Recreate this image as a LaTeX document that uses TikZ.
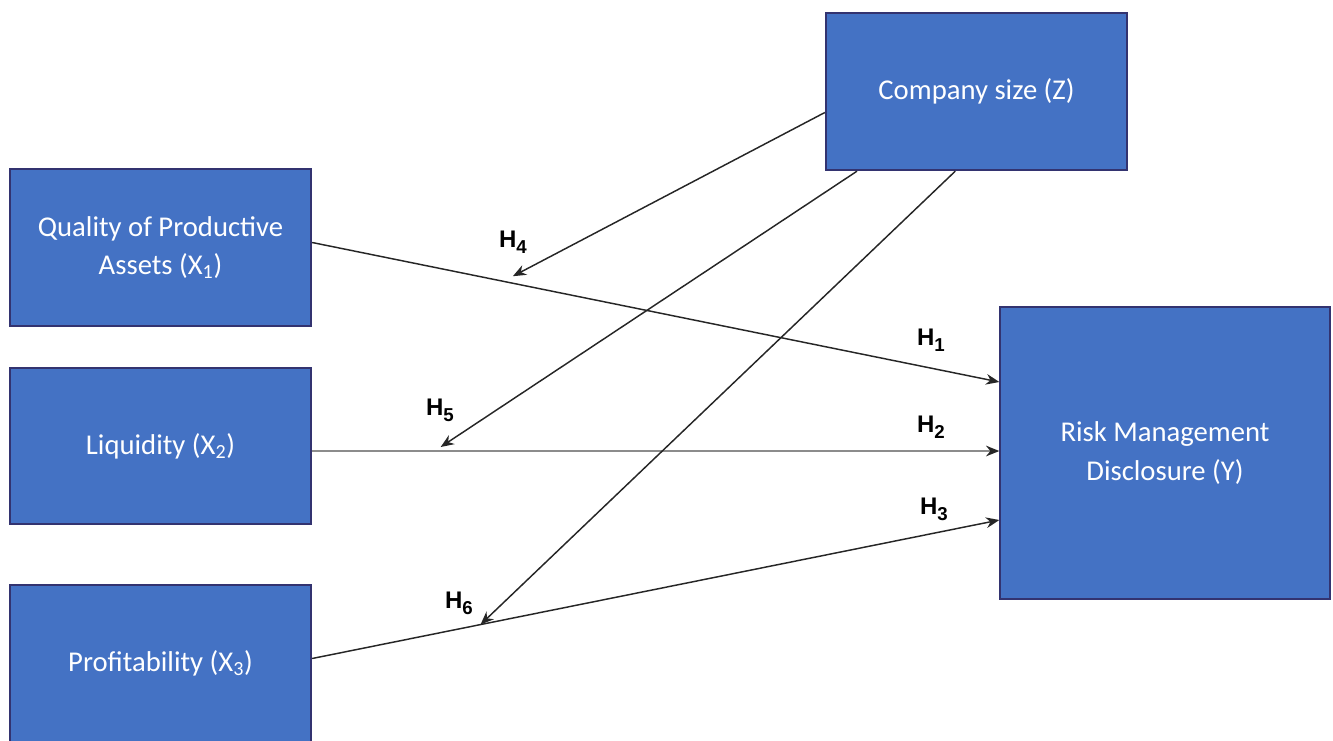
\documentclass[tikz,border=0pt]{standalone}
\usepackage{fontspec}
\setmainfont{Carlito}
\newfontfamily\hfont{Liberation Sans}
\usetikzlibrary{arrows.meta,calc}
\newcommand{\hsub}[1]{H\raisebox{-4.5pt}{\fontsize{14}{14}\selectfont #1}}

\begin{document}
\begin{tikzpicture}[x=0.75pt,y=-0.75pt,
  var/.style={draw=blue!30!black!80,line width=1.5pt,fill=boxblue,text=white,
    align=center,font=\fontsize{21.5}{29}\selectfont,inner sep=0pt},
  hyp/.style={-{Stealth[length=10pt,width=8pt]},line width=1.1pt,black!85},
  hlab/.style={font=\hfont\bfseries\fontsize{18}{18}\selectfont}]
\definecolor{boxblue}{HTML}{4472C4}
\useasboundingbox (0,0) rectangle (1333,740);

% variables
\node [var,minimum width=226pt,minimum height=118pt] (x1) at (160.5,247.5) {Quality of Productive\\Assets (X\textsubscript{1})};
\node [var,minimum width=226pt,minimum height=117pt] (x2) at (160.5,446) {Liquidity (X\textsubscript{2})};
\node [var,minimum width=226pt,minimum height=118pt] (x3) at (160.5,663.5) {Profitability (X\textsubscript{3})};
\node [var,minimum width=226pt,minimum height=118pt] (z) at (976.5,91.5) {Company size (Z)};
\node [var,minimum width=247pt,minimum height=219pt] (y) at (1165,453) {Risk Management\\Disclosure (Y)};

% direct effects
\draw [hyp] ($(x1.east)+(0,-5)$) -- coordinate[pos=0.292] (m1) ($(y.west)+(0,-71)$);
\draw [hyp,draw=black!45,-{Stealth[length=10pt,width=8pt,black!85]}] ($(x2.east)+(0,5)$) -- coordinate[pos=0.187] (m2) ($(y.west)+(0,-2)$);
\draw [hyp] ($(x3.east)+(0,-5)$) -- coordinate[pos=0.245] (m3) ($(y.west)+(0,67)$);

% moderation
\draw [hyp] ($(z.west)+(0,21)$) -- ($(m1)+(0,-7)$);
\draw [hyp] ($(z.south west)!0.106!(z.south east)$) -- ($(m2)+(0,-4)$);
\draw [hyp] ($(z.south west)!0.43!(z.south east)$) -- (m3);

% labels
\node [hlab] (h1) at (931,340) {\hsub{1}};
\node [hlab] (h2) at (931,427) {\hsub{2}};
\node [hlab] (h3) at (934,509) {\hsub{3}};
\node [hlab] (h4) at (513,242) {\hsub{4}};
\node [hlab] (h5) at (440,410) {\hsub{5}};
\node [hlab] (h6) at (459,603) {\hsub{6}};
\end{tikzpicture}
\end{document}
